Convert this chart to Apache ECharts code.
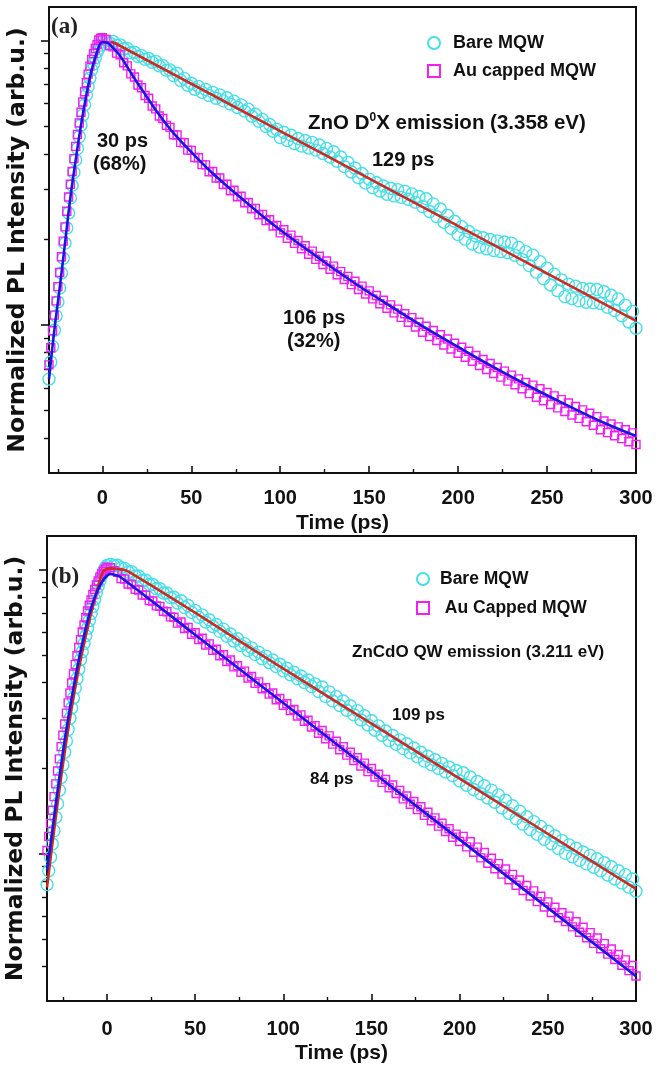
<!DOCTYPE html>
<html><head><meta charset="utf-8">
<script src="https://cdn.jsdelivr.net/npm/echarts@6.0.0/dist/echarts.min.js"></script>
<style>html,body{margin:0;padding:0;background:#fff}#c{width:665px;height:1065px}</style>
</head><body><div id="c"></div>
<script>
// ---------- axis ticks ----------
const xMajor = [0, 50, 100, 150, 200, 250, 300];
const xMinor = [-25, 25, 75, 125, 175, 225, 275];
const yMajorI = [0.1, 1];
const yMinorI = [0.04, 0.05, 0.06, 0.07, 0.08, 0.09, 0.2, 0.3, 0.4, 0.5, 0.6, 0.7, 0.8, 0.9];

// ---------- time grids (ps) ----------
const tRiseA = [-30,-29,-28,-27,-26,-25,-24,-23,-22,-21,-20,-19,-18,-17,-16,-15,-14,-13,-12,-11,-10,-9,-8,-7,-6,-5,-4,-3,-2,-1,0];
const tRiseB = [-34,-33,-32,-31,-30,-29,-28,-27,-26,-25,-24,-23,-22,-21,-20,-19,-18,-17,-16,-15,-14,-13,-12,-11,-10,-9,-8,-7,-6,-5,-4,-3,-2,-1,0];
const tDecay = [2,4,6,8,10,12,14,16,18,20,22,24,26,28,30,32,34,36,38,40,42,44,46,48,50,52,54,56,58,60,62,64,66,68,70,72,74,76,78,80,82,84,86,88,90,92,94,96,98,100,
102,104,106,108,110,112,114,116,118,120,122,124,126,128,130,132,134,136,138,140,142,144,146,148,150,152,154,156,158,160,162,164,166,168,170,172,174,176,178,180,182,184,186,188,190,192,194,196,198,200,
202,204,206,208,210,212,214,216,218,220,222,224,226,228,230,232,234,236,238,240,242,244,246,248,250,252,254,256,258,260,262,264,266,268,270,272,274,276,278,280,282,284,286,288,290,292,294,296,298,300];

// ---------- panel (a): log10 of normalized PL intensity ----------
const bareA_rise = [-1.19,-1.13,-1.075,-1.018,-0.968,-0.919,-0.870,-0.817,-0.765,-0.712,-0.659,-0.606,-0.553,-0.509,-0.464,-0.420,-0.379,-0.338,-0.297,-0.262,-0.226,-0.191,-0.162,-0.132,-0.103,-0.082,-0.061,-0.040,-0.028,-0.016,-0.005];
const bareA_decay = [-0.001,-0.008,-0.003,-0.016,-0.015,-0.029,-0.028,-0.043,-0.041,-0.056,
-0.053,-0.066,-0.063,-0.076,-0.073,-0.089,-0.088,-0.104,-0.103,-0.123,
-0.115,-0.140,-0.133,-0.157,-0.150,-0.171,-0.161,-0.182,-0.172,-0.193,
-0.182,-0.203,-0.191,-0.212,-0.201,-0.223,-0.213,-0.235,-0.226,-0.248,
-0.241,-0.266,-0.259,-0.284,-0.277,-0.302,-0.295,-0.319,-0.312,-0.341,
-0.322,-0.351,-0.333,-0.362,-0.344,-0.371,-0.351,-0.378,-0.358,-0.385,
-0.367,-0.397,-0.379,-0.409,-0.391,-0.424,-0.409,-0.443,-0.428,-0.462,
-0.448,-0.482,-0.467,-0.501,-0.487,-0.517,-0.499,-0.529,-0.511,-0.540,
-0.519,-0.546,-0.524,-0.551,-0.530,-0.558,-0.539,-0.568,-0.548,-0.583,
-0.556,-0.601,-0.574,-0.619,-0.592,-0.639,-0.614,-0.660,-0.635,-0.682,
-0.654,-0.698,-0.671,-0.715,-0.687,-0.726,-0.693,-0.732,-0.699,-0.738,
-0.704,-0.742,-0.708,-0.746,-0.712,-0.755,-0.727,-0.770,-0.742,-0.791,
-0.754,-0.814,-0.777,-0.837,-0.800,-0.859,-0.821,-0.879,-0.841,-0.900,
-0.856,-0.907,-0.863,-0.915,-0.871,-0.920,-0.873,-0.922,-0.875,-0.924,
-0.883,-0.937,-0.895,-0.949,-0.908,-0.967,-0.930,-0.989,-0.952,-1.011];
const auA_rise = [-1.14,-1.08,-1.02,-0.965,-0.915,-0.865,-0.815,-0.76,-0.705,-0.655,-0.60,-0.55,-0.505,-0.46,-0.415,-0.372,-0.33,-0.29,-0.252,-0.216,-0.18,-0.148,-0.118,-0.09,-0.066,-0.046,-0.028,-0.014,0.002,0.008,0.01];
const auA_decay = [0.004,-0.018,-0.022,-0.044,-0.050,-0.078,-0.089,-0.117,-0.128,-0.156,
-0.166,-0.193,-0.203,-0.230,-0.240,-0.265,-0.274,-0.298,-0.305,-0.331,
-0.332,-0.358,-0.359,-0.385,-0.386,-0.411,-0.412,-0.436,-0.437,-0.461,
-0.460,-0.483,-0.483,-0.506,-0.505,-0.528,-0.526,-0.549,-0.547,-0.570,
-0.569,-0.591,-0.590,-0.612,-0.611,-0.633,-0.630,-0.652,-0.650,-0.676,
-0.665,-0.695,-0.684,-0.713,-0.703,-0.732,-0.721,-0.751,-0.740,-0.769,
-0.758,-0.787,-0.775,-0.804,-0.793,-0.823,-0.812,-0.840,-0.829,-0.858,
-0.846,-0.875,-0.863,-0.891,-0.880,-0.908,-0.896,-0.925,-0.913,-0.941,
-0.929,-0.957,-0.944,-0.973,-0.960,-0.990,-0.974,-1.007,-0.990,-1.025,
-1.004,-1.040,-1.019,-1.054,-1.034,-1.070,-1.049,-1.084,-1.064,-1.099,
-1.078,-1.113,-1.092,-1.127,-1.107,-1.142,-1.121,-1.156,-1.135,-1.170,
-1.149,-1.183,-1.162,-1.197,-1.176,-1.210,-1.189,-1.224,-1.202,-1.241,
-1.211,-1.254,-1.224,-1.266,-1.237,-1.279,-1.249,-1.291,-1.262,-1.304,
-1.274,-1.316,-1.286,-1.328,-1.298,-1.340,-1.310,-1.352,-1.322,-1.368,
-1.337,-1.378,-1.348,-1.389,-1.358,-1.399,-1.368,-1.410,-1.379,-1.420];
const fitAuA_t = [-30,-27,-24,-21,-18,-15,-12,-9,-6,-3,0,3,6,10,15,20,25,30,35,40,50,60,70,80,90,100,120,140,160,180,200,220,240,260,280,300];
const fitAuA_v = [-1.19,-1.018,-0.870,-0.712,-0.553,-0.420,-0.297,-0.191,-0.103,-0.040,-0.005,-0.008,-0.026,-0.054,-0.103,-0.152,-0.198,-0.244,-0.286,-0.325,-0.392,-0.455,-0.511,-0.564,-0.617,-0.666,-0.757,-0.845,-0.926,-1.004,-1.077,-1.148,-1.215,-1.278,-1.338,-1.390];
const fitBareA_t = [5, 8, 300];
const fitBareA_v = [-0.004, -0.012, -0.985];

// ---------- panel (b) ----------
const bareB_rise = [-1.11,-1.061,-1.014,-0.967,-0.92,-0.873,-0.825,-0.778,-0.733,-0.689,-0.644,-0.604,-0.564,-0.524,-0.488,-0.453,-0.417,-0.384,-0.351,-0.318,-0.29,-0.261,-0.233,-0.207,-0.18,-0.155,-0.13,-0.105,-0.082,-0.06,-0.04,-0.022,-0.006,0.006,0.014];
const bareB_decay = [0.018,0.014,0.015,0.006,0.004,-0.009,-0.008,-0.023,-0.023,-0.038,
-0.038,-0.053,-0.053,-0.068,-0.068,-0.083,-0.083,-0.099,-0.098,-0.118,
-0.110,-0.134,-0.127,-0.151,-0.144,-0.168,-0.160,-0.185,-0.177,-0.201,
-0.194,-0.218,-0.210,-0.235,-0.227,-0.252,-0.244,-0.268,-0.261,-0.285,
-0.276,-0.299,-0.291,-0.314,-0.305,-0.328,-0.319,-0.342,-0.334,-0.357,
-0.348,-0.371,-0.362,-0.385,-0.375,-0.398,-0.389,-0.412,-0.403,-0.430,
-0.414,-0.447,-0.431,-0.463,-0.447,-0.479,-0.463,-0.496,-0.480,-0.512,
-0.497,-0.530,-0.515,-0.548,-0.533,-0.566,-0.551,-0.584,-0.569,-0.602,
-0.585,-0.616,-0.600,-0.631,-0.614,-0.646,-0.629,-0.660,-0.644,-0.675,
-0.658,-0.688,-0.670,-0.701,-0.683,-0.713,-0.696,-0.726,-0.708,-0.745,
-0.716,-0.760,-0.731,-0.775,-0.747,-0.790,-0.762,-0.805,-0.777,-0.820,
-0.794,-0.840,-0.813,-0.859,-0.832,-0.878,-0.851,-0.897,-0.871,-0.916,
-0.888,-0.933,-0.905,-0.950,-0.922,-0.966,-0.939,-0.983,-0.955,-1.000,
-0.970,-1.012,-0.982,-1.024,-0.995,-1.037,-1.007,-1.049,-1.019,-1.061,
-1.033,-1.076,-1.047,-1.090,-1.061,-1.104,-1.075,-1.119,-1.090,-1.133];
const auB_rise = [-0.99,-0.94,-0.895,-0.848,-0.80,-0.755,-0.71,-0.667,-0.624,-0.584,-0.544,-0.506,-0.47,-0.435,-0.40,-0.368,-0.335,-0.304,-0.275,-0.247,-0.22,-0.195,-0.17,-0.146,-0.126,-0.107,-0.088,-0.07,-0.054,-0.04,-0.027,-0.016,-0.006,0.002,0.008];
const auB_decay = [0.006,-0.004,-0.010,-0.032,-0.034,-0.051,-0.053,-0.070,-0.072,-0.090,
-0.091,-0.109,-0.111,-0.128,-0.130,-0.147,-0.149,-0.167,-0.168,-0.189,
-0.185,-0.208,-0.204,-0.228,-0.223,-0.247,-0.242,-0.266,-0.262,-0.285,
-0.281,-0.304,-0.300,-0.324,-0.319,-0.343,-0.339,-0.362,-0.358,-0.382,
-0.377,-0.401,-0.396,-0.420,-0.416,-0.439,-0.435,-0.459,-0.454,-0.478,
-0.473,-0.497,-0.493,-0.516,-0.512,-0.535,-0.531,-0.555,-0.550,-0.577,
-0.567,-0.596,-0.586,-0.615,-0.605,-0.635,-0.624,-0.654,-0.644,-0.673,
-0.663,-0.692,-0.682,-0.712,-0.701,-0.731,-0.721,-0.750,-0.740,-0.769,
-0.759,-0.789,-0.778,-0.808,-0.798,-0.827,-0.817,-0.846,-0.836,-0.866,
-0.855,-0.885,-0.875,-0.904,-0.894,-0.923,-0.913,-0.943,-0.932,-0.958,
-0.940,-0.977,-0.959,-0.996,-0.978,-1.016,-0.997,-1.035,-1.017,-1.054,
-1.036,-1.073,-1.055,-1.093,-1.074,-1.112,-1.094,-1.131,-1.113,-1.150,
-1.132,-1.170,-1.151,-1.189,-1.171,-1.208,-1.190,-1.227,-1.209,-1.240,
-1.221,-1.259,-1.241,-1.278,-1.260,-1.297,-1.279,-1.317,-1.298,-1.336,
-1.318,-1.355,-1.337,-1.374,-1.356,-1.394,-1.375,-1.413,-1.395,-1.432];
const fitAuB_t = [-34,-31,-28,-25,-22,-19,-16,-13,-10,-7,-4,-1,2,5,8,50,150,250,300];
const fitAuB_v = [-1.061,-0.920,-0.778,-0.644,-0.524,-0.417,-0.318,-0.233,-0.156,-0.099,-0.057,-0.028,-0.016,-0.02,-0.028,-0.230,-0.711,-1.192,-1.433];
const fitBareB_t = [-34,-30,-26,-22,-18,-14,-10,-6,-2,2,6,12,100,200,300];
const fitBareB_v = [-1.12,-0.92,-0.733,-0.564,-0.417,-0.29,-0.18,-0.082,-0.006,0.004,0.002,-0.007,-0.349,-0.737,-1.125];

// ---------- styling ----------
const CYAN = '#45dfe8', MAGENTA = '#f21ff0', RED = '#cc2a22', BLUE = '#1717e0';
const SANS = "'Liberation Sans',Arial,sans-serif";
const WIDE = "'DejaVu Sans','Liberation Sans',Arial,sans-serif";
const SERIF = "'Liberation Serif','Times New Roman',serif";
const Y_MIN = -1.52, Y_MAX = 0.118;

const zip = (t, v) => t.map((x, i) => [x, v[i]]);
const lg = a => a.map(v => Math.log10(v));

function xAxes(grid, min, margin, gap) {
  return [{
    gridIndex: grid, type: 'value', min: min, max: 300, position: 'bottom',
    axisLine: { show: true, onZero: false, lineStyle: { color: '#111', width: 2 } },
    axisTick: { show: true, inside: true, length: 7, customValues: xMajor, lineStyle: { color: '#111', width: 1.6 } },
    axisLabel: { show: true, customValues: xMajor, margin: margin, color: '#111', fontSize: 20, fontWeight: 'bold', fontFamily: SANS },
    splitLine: { show: false },
    name: 'Time (ps)', nameLocation: 'middle', nameGap: gap,
    nameTextStyle: { color: '#111', fontSize: 21, fontWeight: 'bold', fontFamily: SANS }
  }, {
    gridIndex: grid, type: 'value', min: min, max: 300, position: 'bottom',
    axisLine: { show: false, onZero: false },
    axisTick: { show: true, inside: true, length: 4, customValues: xMinor, lineStyle: { color: '#111', width: 1.4 } },
    axisLabel: { show: false }, splitLine: { show: false }
  }];
}
function yAxes(grid) {
  return [{
    gridIndex: grid, type: 'value', min: Y_MIN, max: Y_MAX, position: 'left',
    axisLine: { show: true, onZero: false, lineStyle: { color: '#111', width: 2 } },
    axisTick: { show: true, inside: false, length: 8, customValues: lg(yMajorI), lineStyle: { color: '#111', width: 1.6 } },
    axisLabel: { show: false }, splitLine: { show: false },
    name: 'Normalized PL Intensity (arb.u.)', nameLocation: 'middle', nameGap: 19, nameRotate: 90,
    nameTextStyle: { color: '#111', fontSize: 23.5, fontWeight: 'bold', fontFamily: WIDE }
  }, {
    gridIndex: grid, type: 'value', min: Y_MIN, max: Y_MAX, position: 'left',
    axisLine: { show: false, onZero: false },
    axisTick: { show: true, inside: false, length: 5, customValues: lg(yMinorI), lineStyle: { color: '#111', width: 1.4 } },
    axisLabel: { show: false }, splitLine: { show: false }
  }];
}
function scatter(name, xi, yi, data, symbol, size, color, z) {
  return { type: 'scatter', name, xAxisIndex: xi, yAxisIndex: yi, data, symbol, symbolSize: size,
    itemStyle: { color: 'rgba(255,255,255,0)', borderColor: color, borderWidth: 1.4, opacity: 1 },
    z, animation: false, emphasis: { disabled: true } };
}
function fit(name, xi, yi, data, color, z) {
  return { type: 'line', name, xAxisIndex: xi, yAxisIndex: yi, data, showSymbol: false, symbol: 'none',
    smooth: 0.4, lineStyle: { color, width: 2.6 }, z, animation: false, emphasis: { disabled: true } };
}
const txt = (text, left, top, size, extra) => ({ text, left, top, padding: 0,
  textStyle: Object.assign({ color: '#111', fontSize: size, fontWeight: 'bold', fontFamily: SANS,
    rich: { s: { fontSize: 12, fontWeight: 'bold', fontFamily: SANS, color: '#111', verticalAlign: 'top', padding: [0, 0, 10, 0] } } }, extra || {}) });

const option = {
  backgroundColor: '#fff',
  animation: false,
  grid: [
    { left: 49, top: 7, width: 587, height: 466, show: true, borderColor: '#111', borderWidth: 2, backgroundColor: 'transparent', containLabel: false, outerBoundsMode: 'none' },
    { left: 47, top: 536, width: 589, height: 465, show: true, borderColor: '#111', borderWidth: 2, backgroundColor: 'transparent', containLabel: false, outerBoundsMode: 'none' }
  ],
  xAxis: [...xAxes(0, -30, 15, 40), ...xAxes(1, -34, 18, 42)],
  yAxis: [...yAxes(0), ...yAxes(1)],
  legend: [
    { data: ['Bare MQW', 'Au capped MQW'], left: 422, top: 29, orient: 'vertical', itemGap: 10,
      itemWidth: 12, itemHeight: 12, selectedMode: false,
      textStyle: { color: '#111', fontSize: 18, fontWeight: 'bold', fontFamily: SANS, padding: [0, 0, 0, 8] } },
    { data: ['Bare MQW (b)', 'Au Capped MQW (b)'], left: 411, top: 565, orient: 'vertical', itemGap: 11,
      itemWidth: 12, itemHeight: 12, selectedMode: false,
      textStyle: { color: '#111', fontSize: 17.5, fontWeight: 'bold', fontFamily: SANS, padding: [0, 0, 0, 6] },
      formatter: n => (n.indexOf('Au') === 0 ? ' ' : '') + n.replace(' (b)', '') }
  ],
  title: [
    txt('(a)', 51, 16, 23, { fontFamily: SERIF, color: '#222' }),
    txt('ZnO D{s|0}X emission (3.358 eV)', 308, 112, 20.5),
    txt('129 ps', 372, 150, 20),
    txt('30 ps', 97, 131, 20),
    txt('(68%)', 93, 154, 20),
    txt('106 ps', 283, 308, 20),
    txt('(32%)', 287, 331, 20),
    txt('(b)', 51, 566, 23, { fontFamily: SERIF, color: '#222' }),
    txt('ZnCdO QW emission (3.211 eV)', 352, 644, 17),
    txt('109 ps', 392, 707, 17),
    txt('84 ps', 310, 771, 17)
  ],
  series: [
    scatter('Bare MQW', 0, 0, zip(tRiseA, bareA_rise).concat(zip(tDecay, bareA_decay)), 'circle', 12, CYAN, 2),
    scatter('Au capped MQW', 0, 0, zip(tRiseA, auA_rise).concat(zip(tDecay, auA_decay)), 'rect', 8, MAGENTA, 3),
    fit('fit bare a', 0, 0, zip(fitBareA_t, fitBareA_v), RED, 4),
    fit('fit au a', 0, 0, zip(fitAuA_t, fitAuA_v), BLUE, 5),
    scatter('Bare MQW (b)', 2, 2, zip(tRiseB, bareB_rise).concat(zip(tDecay, bareB_decay)), 'circle', 12, CYAN, 2),
    scatter('Au Capped MQW (b)', 2, 2, zip(tRiseB, auB_rise).concat(zip(tDecay, auB_decay)), 'rect', 8, MAGENTA, 3),
    fit('fit bare b', 2, 2, zip(fitBareB_t, fitBareB_v), RED, 4),
    fit('fit au b', 2, 2, zip(fitAuB_t, fitAuB_v), BLUE, 5)
  ]
};
const chart = echarts.init(document.getElementById('c'), null, { renderer: 'canvas' });
chart.setOption(option);
</script></body></html>
